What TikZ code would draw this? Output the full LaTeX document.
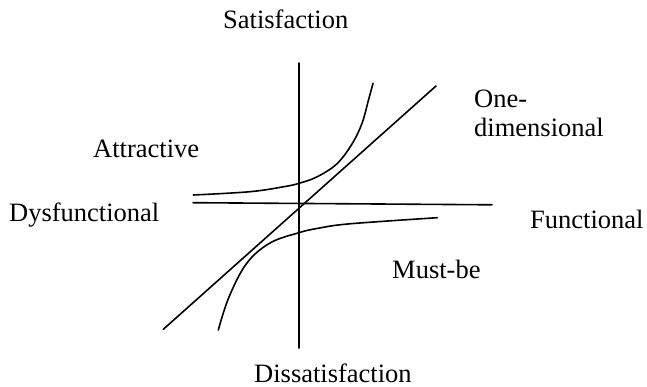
\documentclass[tikz,border=0pt]{standalone}
\usepackage{fontspec}
\setmainfont{Liberation Serif}
\begin{document}
\begin{tikzpicture}[x=1pt,y=-1pt,
  lbl/.style={anchor=base west,inner sep=0pt,font=\fontsize{26.5}{29}\selectfont},
  axis/.style={line width=1.6pt,line cap=round},
  curve/.style={line width=1.6pt,line cap=round}]
\useasboundingbox (0,0) rectangle (647,387);
% axes
\coordinate (vtop) at (299,63);
\coordinate (vbot) at (299,348);
\coordinate (hl) at (193,202.7);
\coordinate (hr) at (492,204.8);
\coordinate (dbl) at (163.3,329.3);
\coordinate (dtr) at (436,86);
\draw[axis] (vtop) -- (vbot);
\draw[axis] (hl) -- (hr);
\draw[axis] (dbl) -- (dtr);
% attractive curve
\draw[curve] plot[smooth,tension=0.6] coordinates {(193.3,195) (250,191.7) (285,186.5) (299,183.3) (316.7,177) (336.7,164) (352,144) (362,123.3) (368.5,100) (373,83.3)};
% must-be curve
\draw[curve] plot[smooth,tension=0.6] coordinates {(218.3,330) (229,297) (246.7,263.3) (270,243) (299,232.7) (318,228.3) (350,223.8) (437.3,217.7)};
% labels
\node[lbl] (sat) at (223,29) {Satisfaction};
\node[lbl] (one) at (474,108) {One-};
\node[lbl] (dim) at (474,137) {dimensional};
\node[lbl] (att) at (93,158) {Attractive};
\node[lbl] (dys) at (9,222) {Dysfunctional};
\node[lbl] (fun) at (530,229) {Functional};
\node[lbl] (must) at (392,278) {Must-be};
\node[lbl] (dis) at (254,382) {Dissatisfaction};
\end{tikzpicture}
\end{document}
